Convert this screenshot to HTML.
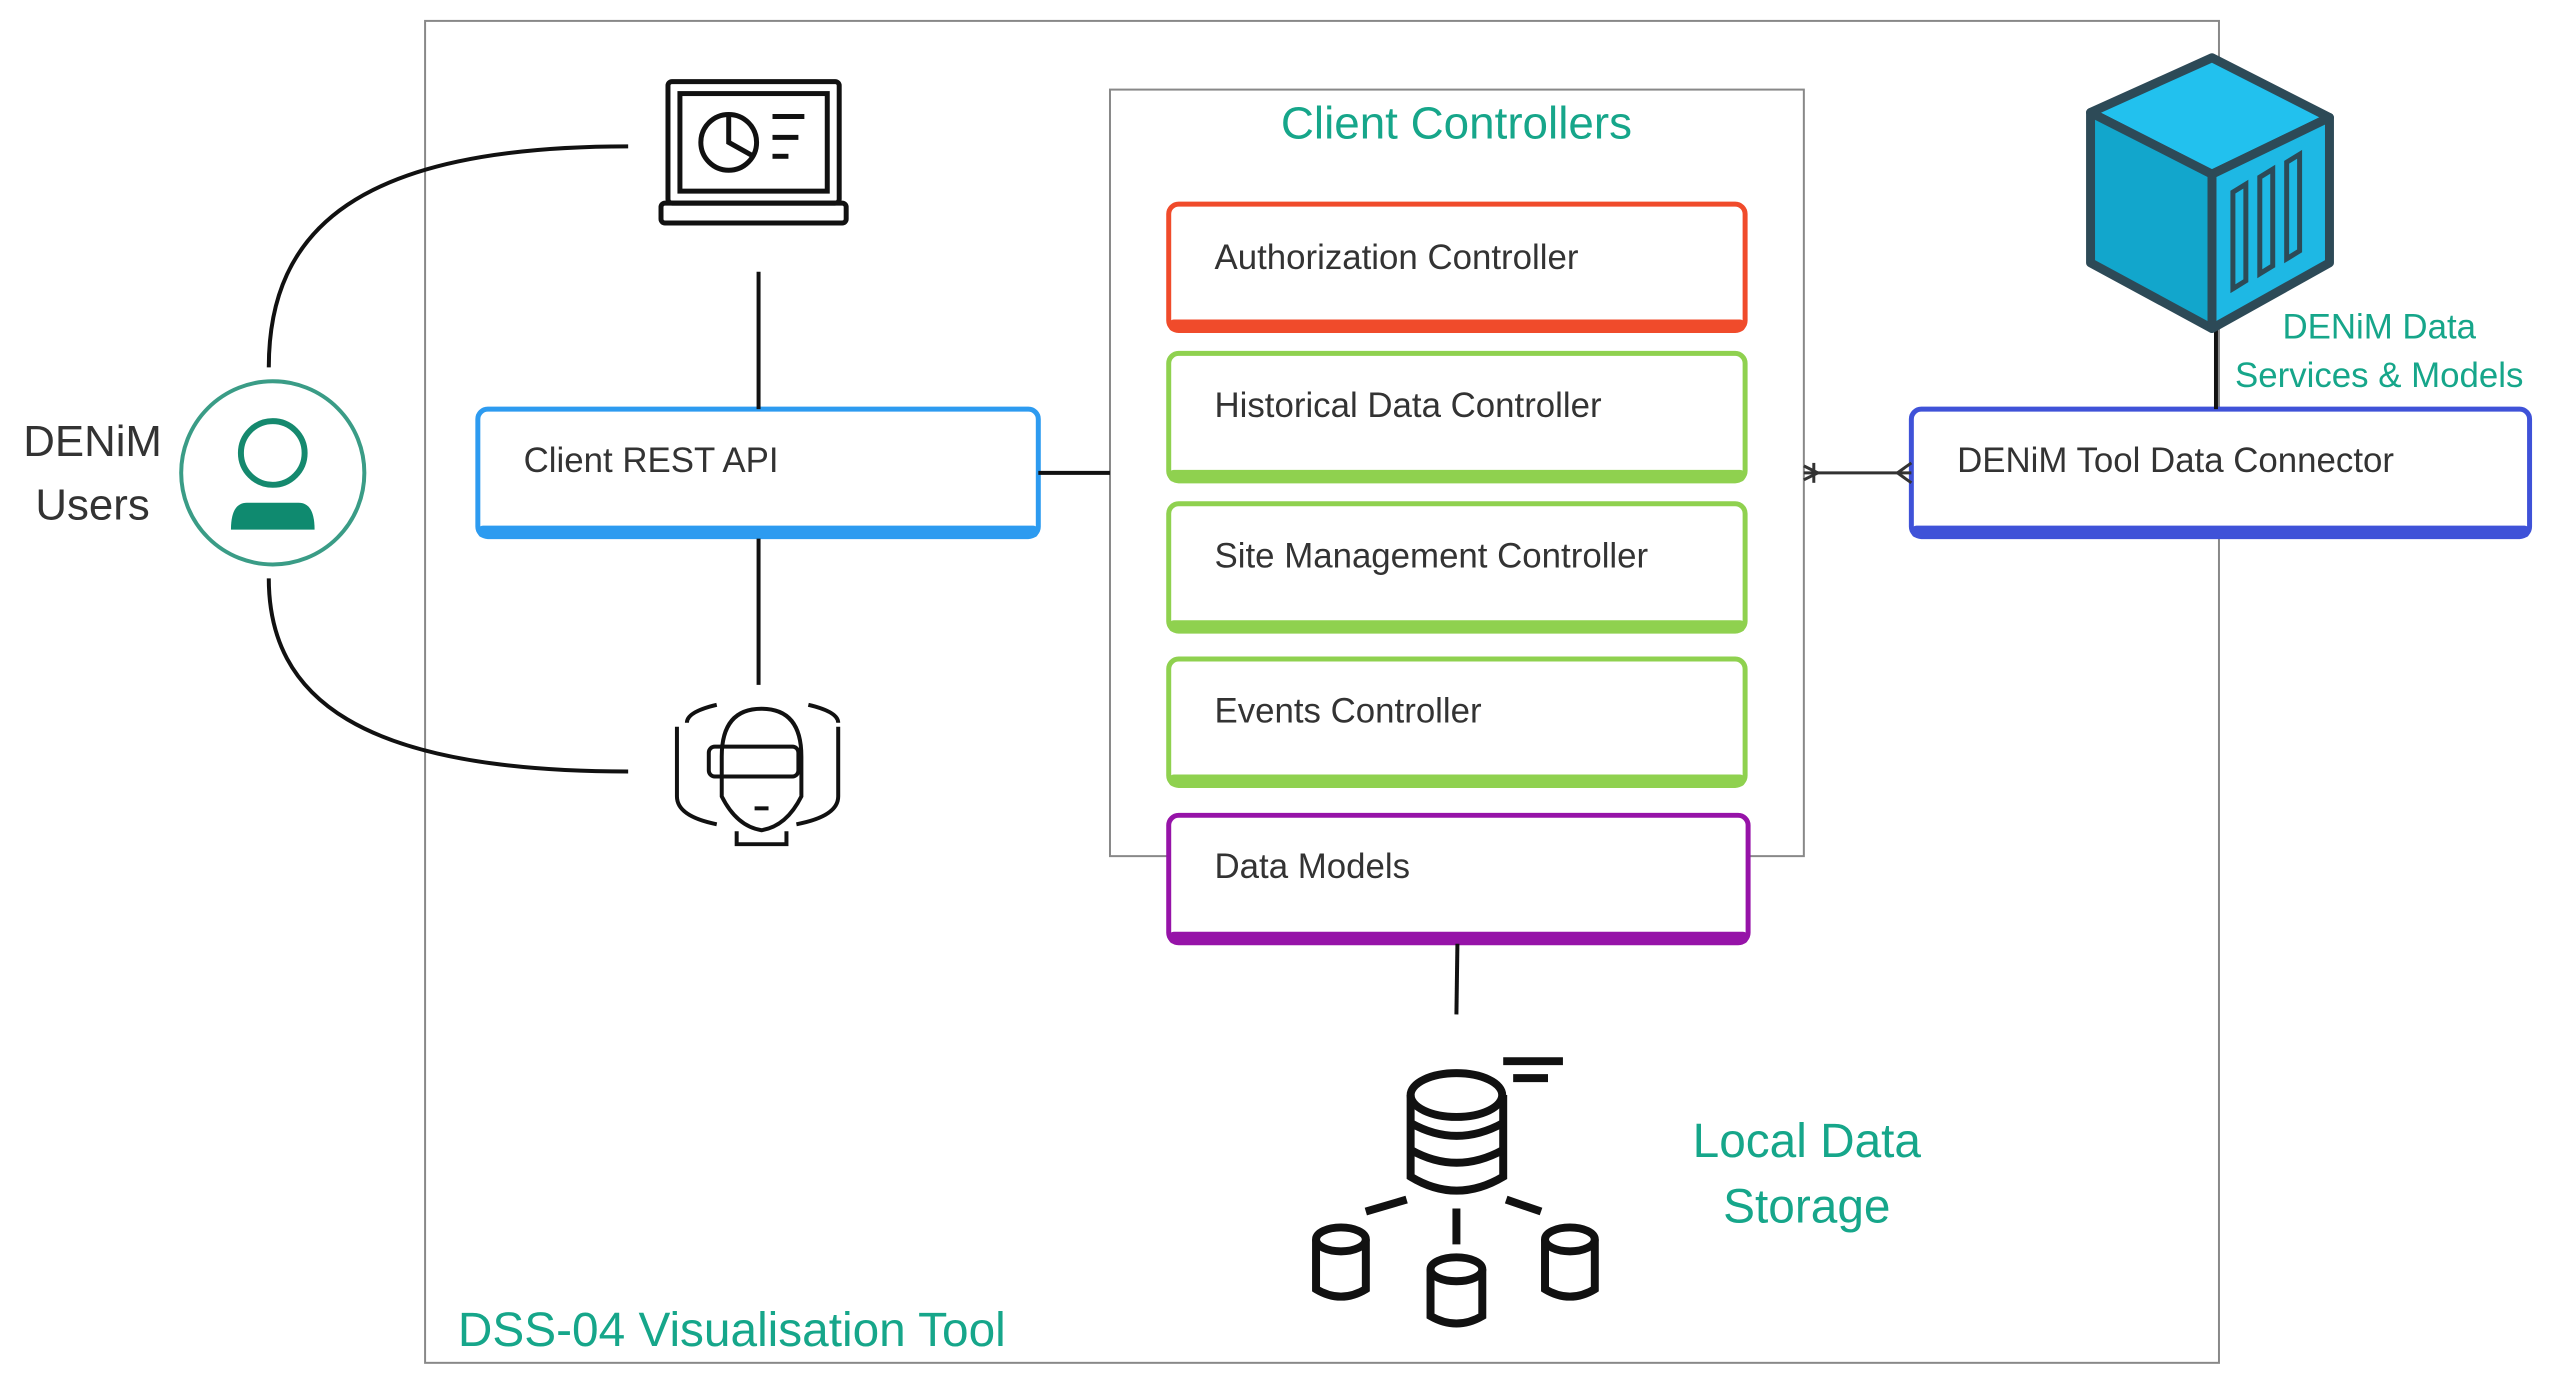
<!DOCTYPE html>
<html><head><meta charset="utf-8"><style>
html,body{margin:0;padding:0;background:#fff;}
svg{display:block;}
text{font-family:"Liberation Sans",sans-serif;}
</style></head><body>
<svg width="2555" height="1390" viewBox="0 0 2555 1390" xmlns="http://www.w3.org/2000/svg">
<g transform="scale(0.9955)">
<!-- outer box -->
<rect x="427" y="21" width="1802" height="1348" fill="none" stroke="#888" stroke-width="2"/>
<text x="460" y="1352" font-size="48" fill="#16a68a">DSS-04 Visualisation Tool</text>
<!-- client controllers container -->
<rect x="1115" y="90" width="697" height="770" fill="none" stroke="#888" stroke-width="2"/>
<text x="1463" y="139" font-size="46" fill="#16a68a" text-anchor="middle">Client Controllers</text>

<g font-size="35" fill="#333">
<rect x="1174" y="205" width="579" height="127" rx="10" fill="#fff" stroke="#f04b2b" stroke-width="5"/>
<rect x="1174" y="321" width="579" height="12" rx="5" fill="#f04b2b"/>
<text x="1220" y="270">Authorization Controller</text>

<rect x="1174" y="355" width="579" height="128" rx="10" fill="#fff" stroke="#8fd14f" stroke-width="5"/>
<rect x="1174" y="472" width="579" height="12" rx="5" fill="#8fd14f"/>
<text x="1220" y="419">Historical Data Controller</text>

<rect x="1174" y="506" width="579" height="128" rx="10" fill="#fff" stroke="#8fd14f" stroke-width="5"/>
<rect x="1174" y="623" width="579" height="12" rx="5" fill="#8fd14f"/>
<text x="1220" y="570">Site Management Controller</text>

<rect x="1174" y="662" width="579" height="127" rx="10" fill="#fff" stroke="#8fd14f" stroke-width="5"/>
<rect x="1174" y="778" width="579" height="12" rx="5" fill="#8fd14f"/>
<text x="1220" y="726">Events Controller</text>

<rect x="1174" y="819" width="582" height="128" rx="10" fill="#fff" stroke="#9613a8" stroke-width="5"/>
<rect x="1174" y="936" width="582" height="12" rx="5" fill="#9613a8"/>
<text x="1220" y="882">Data Models</text>

<rect x="480" y="411" width="563" height="128" rx="10" fill="#fff" stroke="#2d9bf0" stroke-width="5"/>
<rect x="480" y="528" width="563" height="12" rx="5" fill="#2d9bf0"/>
<text x="526" y="474">Client REST API</text>

<rect x="1920" y="411" width="621" height="128" rx="10" fill="#fff" stroke="#3f52d8" stroke-width="5"/>
<rect x="1920" y="528" width="621" height="12" rx="5" fill="#3f52d8"/>
<text x="1966" y="474">DENiM Tool Data Connector</text>
</g>

<g stroke="#111" stroke-width="4" fill="none">
<line x1="762" y1="273" x2="762" y2="411"/>
<line x1="762" y1="541" x2="762" y2="688"/>
<line x1="1043" y1="475" x2="1115" y2="475"/>
<line x1="2226" y1="328" x2="2226" y2="411"/>
<line x1="1464" y1="948" x2="1463" y2="1019"/>
<path d="M270 369 C270 230 360 147 631 147"/>
<path d="M270 581 C270 700 360 775 631 775"/>
</g>
<g stroke="#333" stroke-width="3" fill="none">
<line x1="1812" y1="475" x2="1920" y2="475"/>
<line x1="1822" y1="465" x2="1822" y2="485"/>
<line x1="1812" y1="468" x2="1826" y2="475"/><line x1="1812" y1="482" x2="1826" y2="475"/>
<path d="M1920 465 L1906 475 L1920 485"/>
</g>

<circle cx="274" cy="475" r="92" fill="#fff" stroke="#3a9c86" stroke-width="4"/>
<circle cx="274" cy="455" r="32" fill="none" stroke="#15896e" stroke-width="6"/>
<path d="M232 532 Q232 505 248 505 L300 505 Q316 505 316 532 Z" fill="#0f8a6f"/>
<text x="93" y="458" font-size="44" fill="#333" text-anchor="middle">DENiM</text>
<text x="93" y="522" font-size="44" fill="#333" text-anchor="middle">Users</text>

<g stroke="#111" stroke-width="5" fill="none">
<rect x="671" y="82" width="172" height="122" rx="4"/>
<rect x="683" y="94" width="148" height="98"/>
<rect x="664" y="204" width="186" height="20" rx="4"/>
<circle cx="732" cy="143" r="28"/>
<path d="M732 115 L732 143 L757 157"/>
<line x1="776" y1="117" x2="808" y2="117"/><line x1="776" y1="138" x2="802" y2="138"/><line x1="776" y1="157" x2="792" y2="157"/>
</g>

<g stroke="#111" stroke-width="4" fill="none">
<path d="M690 726 Q690 715 720 708 M842 726 Q842 715 812 708"/>
<path d="M680 730 L680 800 Q680 820 720 828 M842 730 L842 800 Q842 820 800 828"/>
<path d="M725 760 Q725 712 765 712 Q805 712 805 760 L805 800 Q790 830 765 834 Q740 830 725 800 Z"/>
<rect x="712" y="750" width="90" height="30" rx="6"/>
<path d="M740 835 L740 848 L790 848 L790 835"/>
<line x1="758" y1="812" x2="772" y2="812"/>
</g>

<!-- cube -->
<g stroke="#2d4a57" stroke-width="9" stroke-linejoin="round">
<polygon points="2222,58 2340,118 2222,175 2100,113" fill="#22c1ee"/>
<polygon points="2100,113 2222,175 2222,330 2100,264" fill="#12a6cc"/>
<polygon points="2340,118 2222,175 2222,330 2340,264" fill="#1eb8e4"/>
</g>
<g stroke="#2d4a57" stroke-width="5" fill="none">
<polygon points="2243,290 2256,282 2256,185 2243,193"/>
<polygon points="2270,275 2283,267 2283,170 2270,178"/>
<polygon points="2297,260 2310,252 2310,155 2297,163"/>
</g>
<text x="2390" y="340" font-size="35" fill="#16a68a" text-anchor="middle">DENiM Data</text>
<text x="2390" y="389" font-size="35" fill="#16a68a" text-anchor="middle">Services &amp; Models</text>

<g stroke="#111" stroke-width="8" fill="none">
<path d="M1417 1100 L1417 1182 Q1463 1210 1510 1182 L1510 1100"/>
<ellipse cx="1463" cy="1100" rx="46" ry="22"/>
<path d="M1417 1128 Q1463 1154 1510 1128 M1417 1155 Q1463 1181 1510 1155"/>
<line x1="1510" y1="1066" x2="1570" y2="1066"/><line x1="1520" y1="1083" x2="1555" y2="1083"/>
<line x1="1463" y1="1214" x2="1463" y2="1250"/>
<line x1="1413" y1="1205" x2="1372" y2="1217"/><line x1="1513" y1="1205" x2="1548" y2="1217"/>
<path d="M1322 1245 L1322 1295 Q1347 1310 1372 1295 L1372 1245"/><ellipse cx="1347" cy="1245" rx="25" ry="12"/>
<path d="M1552 1245 L1552 1295 Q1577 1310 1602 1295 L1602 1245"/><ellipse cx="1577" cy="1245" rx="25" ry="12"/>
<path d="M1437 1275 L1437 1322 Q1463 1337 1489 1322 L1489 1275"/><ellipse cx="1463" cy="1275" rx="26" ry="12"/>
</g>
<text x="1815" y="1162" font-size="48" fill="#16a68a" text-anchor="middle">Local Data</text>
<text x="1815" y="1228" font-size="48" fill="#16a68a" text-anchor="middle">Storage</text>
</g>
</svg>
</body></html>
